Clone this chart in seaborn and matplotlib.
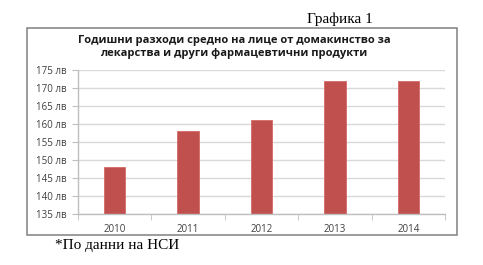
import matplotlib
matplotlib.use("Agg")
import matplotlib.pyplot as plt
import seaborn as sns
import pandas as pd
from matplotlib.patches import Rectangle

years = ["2010", "2011", "2012", "2013", "2014"]
values = [148, 158, 161, 172, 172]
yticks = [135, 140, 145, 150, 155, 160, 165, 170, 175]
ytick_labels = [f"{v} лв" for v in yticks]
title = "Годишни разходи средно на лице от домакинство за\nлекарства и други фармацевтични продукти"
header = "Графика 1"
footnote = "*По данни на НСИ"

sns.set_style("white")
plt.rcParams["font.family"] = ["Open Sans", "DejaVu Sans"]

W, H = 483, 265
fig = plt.figure(figsize=(W / 100, H / 100), dpi=100)

# chart frame
fig.patches.append(Rectangle((27 / W, 1 - 235 / H), (457 - 27) / W, (235 - 28) / H,
                             transform=fig.transFigure, fill=False,
                             edgecolor="#808080", linewidth=1.1))

ax = fig.add_axes([78 / W, 1 - 214 / H, (445 - 78) / W, (214 - 70) / H])
df = pd.DataFrame({"year": years, "value": values})
sns.barplot(data=df, x="year", y="value", ax=ax, color="#C0504D",
            width=0.29, saturation=1, edgecolor="#D46A67", linewidth=0.6)
ax.set_ylim(135, 175)
ax.set_yticks(yticks)
ax.set_yticklabels(ytick_labels, fontsize=7, color="#404040")
ax.set_xticklabels(years, fontsize=7, color="#404040")
ax.set_xlabel("")
ax.set_ylabel("")
ax.grid(axis="y", color="#D9D9D9", linewidth=1.0)
ax.set_axisbelow(True)
for s in ["top", "right"]:
    ax.spines[s].set_visible(False)
for s in ["left", "bottom"]:
    ax.spines[s].set_color("#BFBFBF")
    ax.spines[s].set_linewidth(1.0)
ax.tick_params(axis="y", left=True, length=4, color="#BFBFBF", pad=4)
ax.tick_params(axis="x", bottom=False, pad=4)
# minor ticks between categories on x axis
ax.set_xticks([i - 0.5 for i in range(len(years) + 1)], minor=True)
ax.tick_params(axis="x", which="minor", bottom=True, length=4, color="#BFBFBF")
ax.set_xlim(-0.5, len(years) - 0.5)

fig.text(234 / W, 1 - 47 / H, title, ha="center", va="center", fontsize=8,
         fontweight="bold", color="#1a1a1a", linespacing=1.25)
fig.text(307 / W, 1 - 19 / H, header, ha="left", va="center", fontsize=11,
         family="Liberation Serif", color="black")
fig.text(55 / W, 1 - 245 / H, footnote, ha="left", va="center", fontsize=11,
         family="Liberation Serif", color="black")

fig.savefig("out.png", dpi=100)
